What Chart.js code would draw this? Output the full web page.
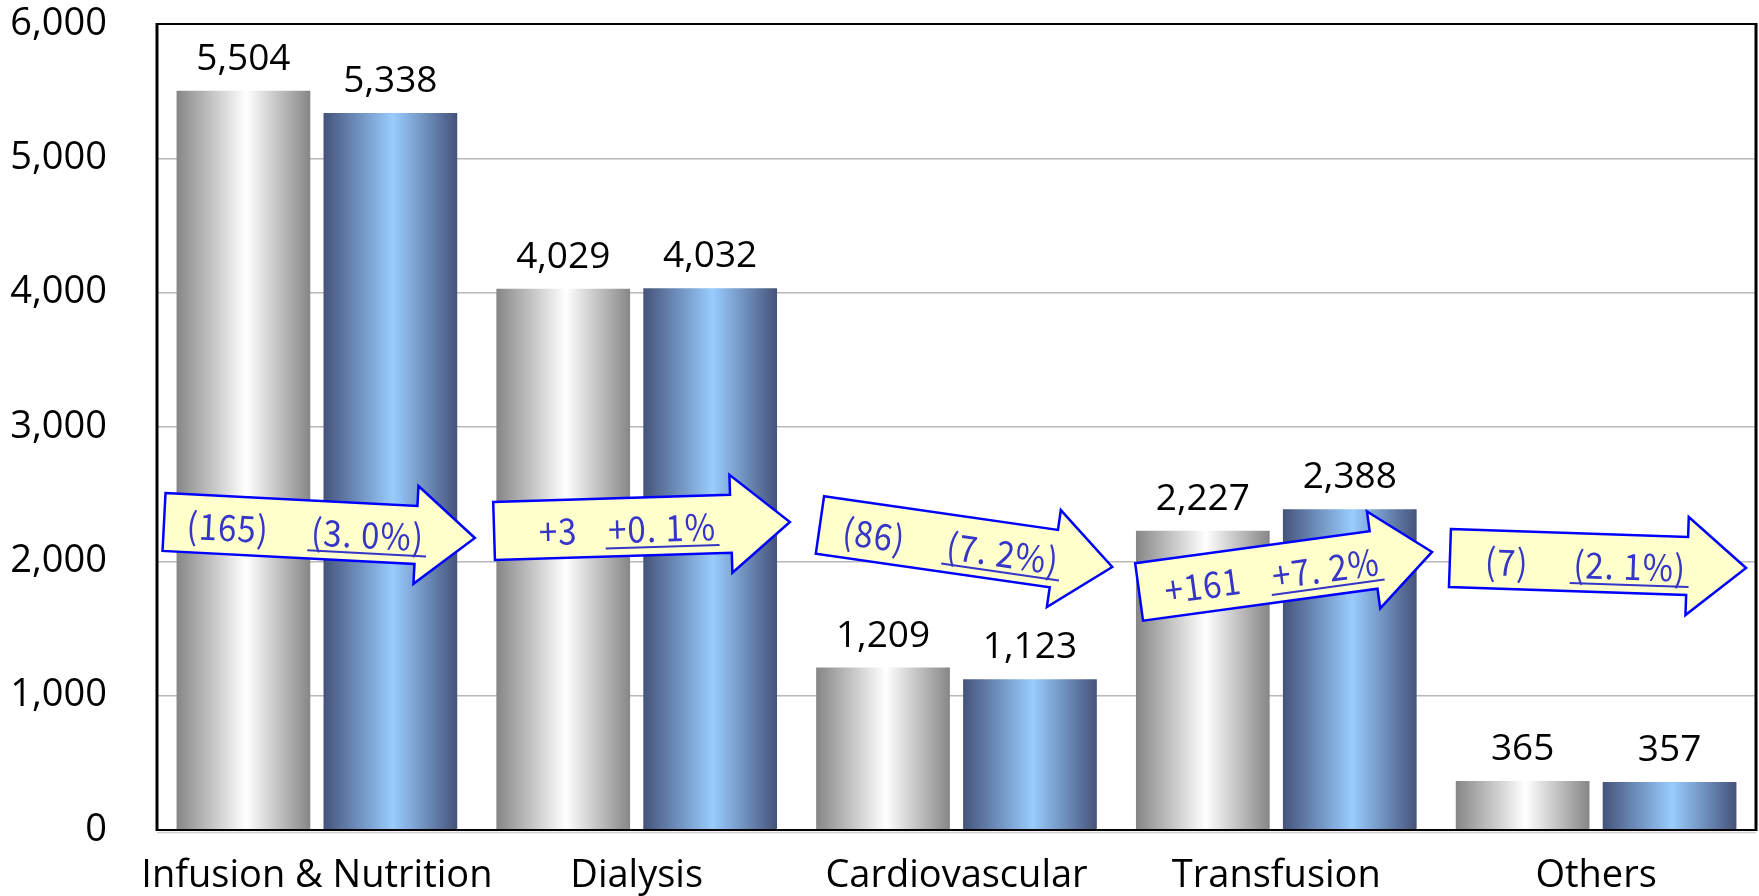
<!DOCTYPE html>
<html>
<head>
<meta charset="utf-8">
<script src="https://cdn.jsdelivr.net/npm/chart.js@4.4.1/dist/chart.umd.min.js"></script>
<style>
  html, body { margin: 0; padding: 0; background: #ffffff; }
  #wrap { width: 1759px; height: 896px; position: relative; }
</style>
</head>
<body>
<div id="wrap"><canvas id="chart"></canvas></div>
<script>
// Sales by product category, previous vs. current period
const categories = ['Infusion & Nutrition', 'Dialysis', 'Cardiovascular', 'Transfusion', 'Others'];
const previousPeriod = [5504, 4029, 1209, 2227, 365];
const currentPeriod = [5338, 4032, 1123, 2388, 357];
const changeAmount = ['(165)', '+3', '(86)', '+161', '(7)'];
const changeRate = ['(3. 0%)', '+0. 1%', '(7. 2%)', '+7. 2%', '(2. 1%)'];
const yTickValues = [0, 1000, 2000, 3000, 4000, 5000, 6000];

// Change arrows: start / tip in scale units (category index, value); text offsets along the arrow
const arrowLayout = [
  { from: [-0.478, 2293], to: [0.494, 2174], amountAt: 64, rateAt: 204 },
  { from: [0.554, 2226], to: [1.479, 2293], amountAt: 64, rateAt: 168 },
  { from: [1.573, 2271], to: [2.487, 1958], amountAt: 55, rateAt: 185 },
  { from: [2.571, 1772], to: [3.487, 2070], amountAt: 64, rateAt: 188 },
  { from: [3.543, 2025], to: [4.469, 1950], amountAt: 57, rateAt: 180 }
];

const fmt = v => v.toLocaleString('en-US');

Chart.defaults.font.family = '"Open Sans", "DejaVu Sans", sans-serif';
Chart.defaults.color = '#000000';

// Metallic horizontal gradients on each bar
const barShading = {
  id: 'barShading',
  beforeDatasetsDraw(chart) {
    const ctx = chart.ctx;
    const palettes = [
      ['#868686', '#ffffff', '#868686'],
      ['#45537a', '#99ccff', '#45537a']
    ];
    chart.data.datasets.forEach((ds, di) => {
      const meta = chart.getDatasetMeta(di);
      const p = palettes[di];
      meta.data.forEach(el => {
        const l = el.x - el.width / 2, r = el.x + el.width / 2;
        const g = ctx.createLinearGradient(l, 0, r, 0);
        g.addColorStop(0, p[0]);
        g.addColorStop(0.52, p[1]);
        g.addColorStop(1, p[2]);
        el.options = Object.assign({}, el.options, { backgroundColor: g });
      });
    });
  }
};

// Plot frame, value labels and change arrows
const overlay = {
  id: 'overlay',
  afterDatasetsDraw(chart) {
    const ctx = chart.ctx;
    const a = chart.chartArea;
    const xs = chart.scales.x, ys = chart.scales.y;

    // frame
    ctx.save();
    ctx.strokeStyle = '#cfcfcf';
    ctx.lineWidth = 1.5;
    ctx.beginPath();
    ctx.moveTo(a.left, a.bottom + 2.5);
    ctx.lineTo(a.right, a.bottom + 2.5);
    ctx.stroke();
    ctx.strokeStyle = '#000000';
    ctx.lineWidth = 2;
    ctx.beginPath();
    ctx.moveTo(a.left, a.top);
    ctx.lineTo(a.right, a.top);
    ctx.moveTo(a.left, a.bottom);
    ctx.lineTo(a.right, a.bottom);
    ctx.stroke();
    ctx.lineWidth = 3;
    ctx.beginPath();
    ctx.moveTo(a.left, a.top - 1);
    ctx.lineTo(a.left, a.bottom + 1);
    ctx.moveTo(a.right, a.top - 1);
    ctx.lineTo(a.right, a.bottom + 1);
    ctx.stroke();
    ctx.restore();

    // value labels above bars
    ctx.save();
    ctx.font = '37px "Open Sans", sans-serif';
    ctx.fillStyle = '#000000';
    ctx.textAlign = 'center';
    ctx.textBaseline = 'alphabetic';
    chart.data.datasets.forEach((ds, di) => {
      chart.getDatasetMeta(di).data.forEach((el, i) => {
        ctx.fillText(fmt(ds.data[i]), el.x, el.y - 21);
      });
    });
    ctx.restore();

    // change arrows
    arrowLayout.forEach((arw, i) => {
      const x0 = xs.getPixelForValue(arw.from[0]), y0 = ys.getPixelForValue(arw.from[1]);
      const x1 = xs.getPixelForValue(arw.to[0]), y1 = ys.getPixelForValue(arw.to[1]);
      const len = Math.hypot(x1 - x0, y1 - y0);
      const ang = Math.atan2(y1 - y0, x1 - x0);
      const shaft = 29, head = 49, headLen = 59;
      ctx.save();
      ctx.translate(x0, y0);
      ctx.rotate(ang);
      ctx.beginPath();
      ctx.moveTo(0, -shaft);
      ctx.lineTo(len - headLen, -shaft);
      ctx.lineTo(len - headLen, -head);
      ctx.lineTo(len, 0);
      ctx.lineTo(len - headLen, head);
      ctx.lineTo(len - headLen, shaft);
      ctx.lineTo(0, shaft);
      ctx.closePath();
      ctx.fillStyle = '#ffffcc';
      ctx.fill();
      ctx.lineJoin = 'miter';
      ctx.lineWidth = 2.5;
      ctx.strokeStyle = '#0000ff';
      ctx.stroke();

      ctx.fillStyle = '#3535c8';
      ctx.strokeStyle = '#3535c8';
      ctx.font = '33px "Noto Sans CJK JP", sans-serif';
      ctx.letterSpacing = '1px';
      ctx.textAlign = 'center';
      ctx.textBaseline = 'middle';
      [[changeAmount[i], arw.amountAt, false], [changeRate[i], arw.rateAt, true]].forEach(([txt, at, under]) => {
        const w = ctx.measureText(txt).width;
        ctx.save();
        ctx.translate(at, 2);
        ctx.scale(1, 1.1);
        ctx.fillText(txt, 0, 0);
        ctx.restore();
        if (under) {
          ctx.lineWidth = 2;
          ctx.beginPath();
          ctx.moveTo(at - w / 2 - 3, 21);
          ctx.lineTo(at + w / 2 + 3, 21);
          ctx.stroke();
        }
      });
      ctx.restore();
    });
  }
};

new Chart(document.getElementById('chart'), {
  type: 'bar',
  data: {
    labels: categories,
    datasets: [
      { label: 'Previous', data: previousPeriod, backgroundColor: '#b0b0b0', borderWidth: 0 },
      { label: 'Current', data: currentPeriod, backgroundColor: '#7f9fd0', borderWidth: 0 }
    ]
  },
  options: {
    responsive: true,
    maintainAspectRatio: false,
    animation: false,
    devicePixelRatio: 1,
    layout: { padding: { top: 24, right: 3, left: 0, bottom: 0 } },
    datasets: { bar: { categoryPercentage: 0.919, barPercentage: 0.91 } },
    plugins: { legend: { display: false }, tooltip: { enabled: false } },
    scales: {
      x: {
        grid: { display: false, drawTicks: false },
        border: { display: false },
        ticks: { font: { size: 38 }, color: '#000000', padding: 23, maxRotation: 0, autoSkip: false },
        afterFit(s) { s.height = 66; s.paddingLeft = 0; s.paddingRight = 0; }
      },
      y: {
        min: 0,
        max: 6000,
        afterBuildTicks(s) { s.ticks = yTickValues.map(v => ({ value: v })); },
        grid: { color: '#b8b8b8', lineWidth: 1.5, drawTicks: false },
        border: { display: false },
        ticks: { font: { size: 38 }, color: '#000000', padding: 50, callback: v => fmt(v) },
        afterFit(s) { s.width = 157; s.paddingTop = 0; s.paddingBottom = 0; }
      }
    }
  },
  plugins: [barShading, overlay]
});
</script>
</body>
</html>
